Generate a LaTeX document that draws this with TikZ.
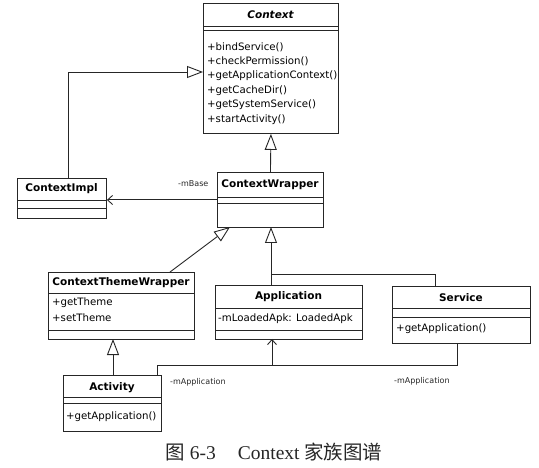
\documentclass[tikz,border=0pt]{standalone}
\usepackage{fontspec}
\setmainfont{DejaVu Sans}
\newfontfamily\capfont{Liberation Serif}
\newfontfamily\cjk{Noto Sans CJK SC}
\usetikzlibrary{arrows.meta}
\begin{document}
\begin{tikzpicture}[x=1pt,y=-1pt,
  ln/.style={draw=black!85, line width=0.9pt},
  cls/.style={ln, anchor=north west, inner sep=0pt, fill=white},
  ttl/.style={font=\bfseries\fontsize{10.5}{12}\selectfont, inner sep=0pt, text=black},
  memb/.style={font=\fontsize{10.2}{12}\selectfont, anchor=west, inner sep=0pt, text=black},
  lbl/.style={font=\fontsize{8}{10}\selectfont, anchor=west, inner sep=0pt, text=black!85},
  inherit/.style={ln, -{Triangle[open, length=16pt, width=12pt, line width=0.9pt]}},
  assoc/.style={ln, -{Straight Barb[length=5pt, width=9pt, line width=0.9pt]}}]
\useasboundingbox (0,0) rectangle (539,468);

% Context
\node[cls, minimum width=135pt, minimum height=130pt] (ctx) at (203,3) {};
\node[ttl, font=\bfseries\itshape\fontsize{10.5}{12}\selectfont] (ctxt) at (270.5,15) {Context};
\draw[ln] (203,26) -- (338,26);
\draw[ln] (203,30) -- (338,30);
\node[memb] (c1) at (207,47) {+bindService()};
\node[memb] (c2) at (207,61.5) {+checkPermission()};
\node[memb] (c3) at (207,76) {+getApplicationContext()};
\node[memb] (c4) at (207,90.5) {+getCacheDir()};
\node[memb] (c5) at (207,105) {+getSystemService()};
\node[memb] (c6) at (207,119.5) {+startActivity()};

% ContextImpl
\node[cls, minimum width=89pt, minimum height=40pt] (impl) at (17,178) {};
\node[ttl] (implt) at (61.5,189) {ContextImpl};
\draw[ln] (17,200) -- (106,200);
\draw[ln] (17,208) -- (106,208);

% ContextWrapper
\node[cls, minimum width=106pt, minimum height=55pt] (wrap) at (217,172) {};
\node[ttl] (wrapt) at (270,184.5) {ContextWrapper};
\draw[ln] (217,197) -- (323,197);
\draw[ln] (217,203) -- (323,203);

% ContextThemeWrapper
\node[cls, minimum width=146pt, minimum height=67pt] (ctw) at (48,272) {};
\node[ttl] (ctwt) at (121,283) {ContextThemeWrapper};
\draw[ln] (48,293) -- (194,293);
\node[memb] (t1) at (52,303) {+getTheme};
\node[memb] (t2) at (52,318) {+setTheme};
\draw[ln] (48,330) -- (194,330);

% Application
\node[cls, minimum width=147pt, minimum height=54pt] (app) at (215,285) {};
\node[ttl] (appt) at (288.5,297) {Application};
\draw[ln] (215,308) -- (362,308);
\node[memb] (a1) at (218,319) {-mLoadedApk: LoadedApk};
\draw[ln] (215,330) -- (362,330);

% Service
\node[cls, minimum width=138pt, minimum height=57pt] (svc) at (392,286) {};
\node[ttl] (svct) at (461,297.5) {Service};
\draw[ln] (392,308) -- (530,308);
\draw[ln] (392,317) -- (530,317);
\node[memb] (s1) at (396,328.5) {+getApplication()};

% Activity
\node[cls, minimum width=98pt, minimum height=56pt] (act) at (63,375) {};
\node[ttl] (actt) at (112,387.5) {Activity};
\draw[ln] (63,397) -- (161,397);
\draw[ln] (63,403) -- (161,403);
\node[memb] (ac1) at (66,417) {+getApplication()};

% connector points
\coordinate (p1) at (68,178);
\coordinate (p2) at (203,72);
\coordinate (p3) at (170,272);
\coordinate (p4) at (230,227);
\coordinate (p5) at (271,285);
\coordinate (p6) at (271,227);
\coordinate (p7) at (435,286);
\coordinate (p8) at (271,274);
\coordinate (p9) at (157,375);
\coordinate (p10) at (272,365);
\coordinate (p11) at (272,339);
\coordinate (p12) at (457,343);
\coordinate (p13) at (113,375);
\coordinate (p14) at (113,339);

% inheritance
\draw[inherit] (p1) |- (p2);
\draw[inherit] (wrap.north) -- (ctx.south);
\draw[inherit] (p3) -- (p4);
\draw[inherit] (p5) -- (p6);
\draw[ln] (p7) |- (p8);
\draw[inherit] (p13) -- (p14);

% associations
\draw[assoc] (wrap.west) -- (impl.east |- wrap.west);
\node[lbl] (mbase) at (178,184) {-mBase};
\draw[ln] (p9) |- (p10);
\draw[ln] (p12) |- (p10);
\draw[assoc] (p10) -- (p11);
\node[lbl] (mapp1) at (170,382) {-mApplication};
\node[lbl] (mapp2) at (394,381) {-mApplication};

% caption
\node[inner sep=0pt, text=black!85] (cap) at (274,452) {\fontsize{19.5}{22}\selectfont\cjk 图\capfont\ 6-3\hspace{22pt}Context\ \cjk 家族图谱};
\end{tikzpicture}
\end{document}
